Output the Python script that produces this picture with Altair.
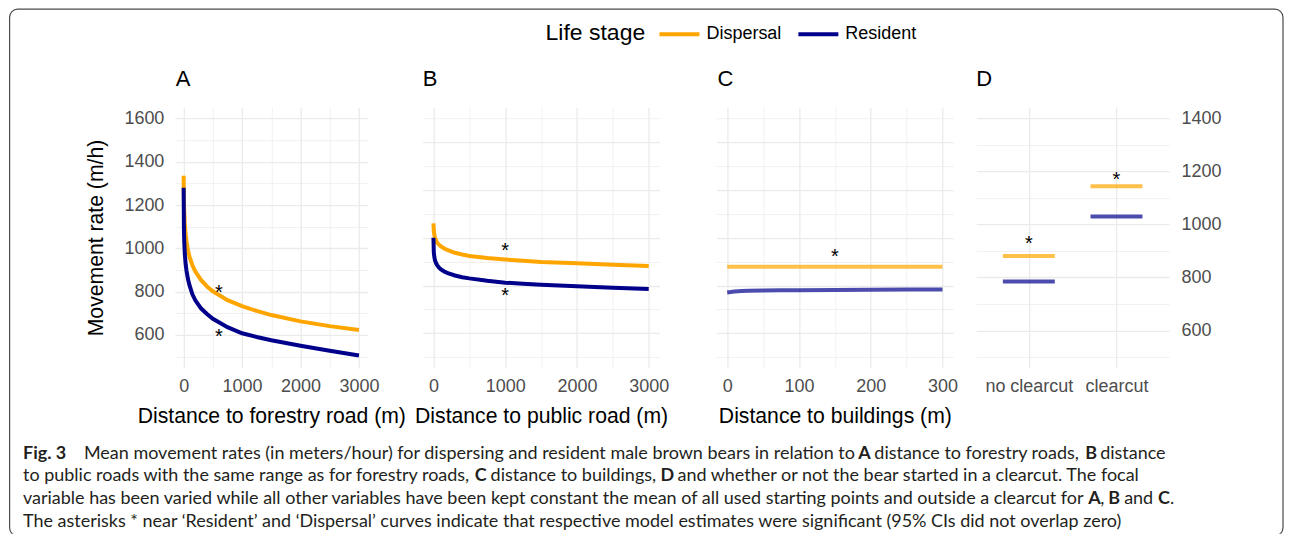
import altair as alt
import pandas as pd

FONT = "Liberation Sans"
CAP_FONT = "Lato"
ORANGE = "#FFA500"
NAVY = "#00008B"
GRID = "#EBEBEB"
TICK_TEXT = "#4D4D4D"

# ---------------- data ----------------
stages = ["Dispersal", "Resident"]

# A: distance to forestry road (m)
dist_forestry = [0, 5, 10, 20, 35, 50, 75, 100, 150, 200, 300, 400, 500, 750, 1000, 1250, 1500, 2000, 2500, 3000]
a_dispersal = [1335, 1220, 1172, 1113, 1064, 1030, 990, 962, 922, 893, 853, 824, 802, 761, 733, 711, 692, 663, 641, 623]
a_resident = [1280, 1095, 1035, 975, 925, 895, 857, 830, 788, 760, 722, 697, 675, 636, 608, 591, 576, 550, 527, 505]

# B: distance to public road (m)
dist_public = [0, 5, 10, 20, 35, 50, 75, 100, 150, 200, 300, 400, 500, 750, 1000, 1250, 1500, 2000, 2500, 3000]
b_dispersal = [1060, 1030, 1017, 1000, 990, 980, 972, 965, 955, 948, 937, 930, 924, 915, 909, 904, 899, 893, 887, 882]
b_resident = [1000, 940, 925, 907, 895, 886, 876, 869, 859, 852, 842, 835, 830, 820, 812, 807, 803, 797, 791, 785]

# C: distance to buildings (m)
dist_buildings = [0, 5, 10, 20, 30, 50, 75, 100, 150, 200, 250, 300]
c_dispersal = [879, 879, 879, 879, 879, 879, 879, 879, 879, 879, 879, 879]
c_resident = [771, 773, 775, 777, 778, 779, 780, 780, 781, 782, 783, 783]

# D: clearcut
clearcut = ["no clearcut", "clearcut"]
d_dispersal = [881, 1144]
d_resident = [785, 1030]

# significance asterisks (x, y in data units)
a_star_x = [603, 603]
a_star_y = [819, 616]
b_star_x = [1000, 1000]
b_star_y = [965, 778]
c_star_x = [150]
c_star_y = [942]
d_star_x = ["no clearcut", "clearcut"]
d_star_y = [944, 1187]

# free texts: panel letters and legend title (text, x, y) in page px
panel_letters = [("A", 175, 86), ("B", 422, 86), ("C", 717, 86), ("D", 976, 86)]
legend_title = ("Life stage", 545, 33)

# caption segments: (text, bold, x position in page px)
caption_lines = [
    [("Fig. 3", True, 22), ("Mean movement rates (in meters/hour) for dispersing and resident male brown bears in relation to", False, 83),
     ("A", True, 858), ("distance to forestry roads,", False, 874), ("B", True, 1085), ("distance", False, 1100)],
    [("to public roads with the same range as for forestry roads,", False, 22), ("C", True, 474),
     ("distance to buildings,", False, 490), ("D", True, 660), ("and whether or not the bear started in a clearcut. The focal", False, 677)],
    [("variable has been varied while all other variables have been kept constant the mean of all used starting points and outside a clearcut for", False, 22),
     ("A", True, 1088), (",", False, 1100), ("B", True, 1108), ("and", False, 1124), ("C", True, 1158), (".", False, 1170)],
    [("The asterisks * near \u2018Resident\u2019 and \u2018Dispersal\u2019 curves indicate that respective model estimates were significant (95% CIs did not overlap zero)", False, 22)],
]
caption_baselines = [459, 481, 504, 527]

# page-pixel geometry of panel A's plot area (used to place caption, letters and frame)
A_LEFT, A_TOP, A_W, H = 174, 107, 193, 261


def long_df(xs, disp, res):
    rows = []
    for s, vals in zip(stages, [disp, res]):
        for x, v in zip(xs, vals):
            rows.append({"x": x, "v": v, "stage": s})
    return pd.DataFrame(rows)


def grid_w(step):
    return {"condition": {"test": f"datum.value % {step} == 0", "value": 1.3}, "value": 0.7}


legend = alt.Legend(
    orient="none", legendX=483, legendY=-95, direction="horizontal", title=None,
    labelFontSize=18, labelFont=FONT, labelColor="black", symbolType="stroke", symbolSize=1600,
    symbolStrokeWidth=4, columnPadding=8, labelOffset=5, padding=0,
)
color = alt.Color("stage:N", scale=alt.Scale(domain=stages, range=[ORANGE, NAVY]), legend=legend)


def star_layer(df, x, y):
    return alt.Chart(df).mark_text(text="*", fontSize=20, font=FONT, baseline="middle", dy=5,
                                   color="black").encode(x=x, y=y)


def line_panel(xs, disp, res, sx, sy, xdom, xvals, xmajor, xtitle, ydom, yaxis, opacity=1.0):
    df = long_df(xs, disp, res)
    stars = pd.DataFrame({"x": sx, "v": sy})
    x = alt.X("x:Q", scale=alt.Scale(domain=xdom, nice=False, zero=False),
              axis=alt.Axis(values=xvals, format="d", title=xtitle,
                            labelExpr=f"datum.value % {xmajor} == 0 ? datum.label : ''",
                            gridWidth=grid_w(xmajor), labelPadding=10, titlePadding=10))
    y = alt.Y("v:Q", scale=alt.Scale(domain=ydom, nice=False, zero=False), axis=yaxis)
    lines = alt.Chart(df).mark_line(strokeWidth=4, opacity=opacity, strokeCap="butt").encode(
        x=x, y=y, color=color)
    return alt.layer(lines, star_layer(stars, x, y))


yvals = list(range(500, 1601, 100))
axis_a = alt.Axis(values=yvals, format="d", title="Movement rate (m/h)",
                  labelExpr="datum.value % 200 == 0 ? datum.label : ''",
                  gridWidth=grid_w(200), labelPadding=11, titlePadding=17)
axis_bc = alt.Axis(values=list(range(500, 1501, 100)), labels=False, title=None, gridWidth=grid_w(200))

inner_a = line_panel(dist_forestry, a_dispersal, a_resident, a_star_x, a_star_y, [-150, 3150],
                     list(range(0, 3001, 500)), 1000, "Distance to forestry road (m)",
                     [448, 1652], axis_a)
panel_b = line_panel(dist_public, b_dispersal, b_resident, b_star_x, b_star_y, [-150, 3150],
                     list(range(0, 3001, 500)), 1000, "Distance to public road (m)",
                     [455, 1547], axis_bc).properties(width=237, height=H)
panel_c = line_panel(dist_buildings, c_dispersal, c_resident, c_star_x, c_star_y, [-15, 315],
                     list(range(0, 301, 50)), 100, "Distance to buildings (m)",
                     [455, 1547], axis_bc, opacity=0.7).properties(width=237, height=H)

# caption, panel letters, legend title and figure frame, in page-pixel coordinates (independent scale of panel A)
cap_rows = []
for i, segs in enumerate(caption_lines):
    for text, bold, xp in segs:
        cap_rows.append({"x": xp, "y": caption_baselines[i], "text": text, "bold": bold})
cap_df = pd.DataFrame(cap_rows)
letters_df = pd.DataFrame({"text": [t for t, _, _ in panel_letters], "x": [x for _, x, _ in panel_letters],
                           "y": [y for _, _, y in panel_letters]})
ltitle_df = pd.DataFrame({"text": [legend_title[0]], "x": [legend_title[1]], "y": [legend_title[2]]})
cx = alt.X("x:Q", scale=alt.Scale(domain=[A_LEFT, A_LEFT + A_W], nice=False, zero=False), axis=None)
cy = alt.Y("y:Q", scale=alt.Scale(domain=[A_TOP, A_TOP + H], range=[0, H], nice=False, zero=False), axis=None)
cap_normal = alt.Chart(cap_df).transform_filter("!datum.bold").mark_text(
    align="left", baseline="alphabetic", font=CAP_FONT, fontSize=18, color="#231F20").encode(
    x=cx, y=cy, text="text:N")
cap_bold = alt.Chart(cap_df).transform_filter("datum.bold").mark_text(
    align="left", baseline="alphabetic", font=CAP_FONT, fontSize=18, fontWeight="bold",
    color="#231F20").encode(x=cx, y=cy, text="text:N")
letters = alt.Chart(letters_df).mark_text(align="left", baseline="alphabetic", font=FONT, fontSize=22,
                                          color="black").encode(x=cx, y=cy, text="text:N")
ltitle = alt.Chart(ltitle_df).mark_text(align="left", baseline="middle", font=FONT, fontSize=23,
                                        color="black").encode(x=cx, y=cy, text="text:N")
frame_df = pd.DataFrame({"x": [8.6], "x2": [1283], "y": [9], "y2": [536]})
frame = alt.Chart(frame_df).mark_rect(fillOpacity=0, stroke="#4A4A4A", strokeWidth=1.2,
                                      cornerRadius=8).encode(x=cx, x2="x2:Q", y=cy, y2="y2:Q")
mask_df = pd.DataFrame({"x": [9.6], "x2": [1282], "y": [536]})
mask = alt.Chart(mask_df).mark_rule(color="white", strokeWidth=4).encode(x=cx, x2="x2:Q", y=cy)
overlay = alt.layer(frame, mask, letters, ltitle, cap_normal, cap_bold)

panel_a = alt.layer(inner_a, overlay).resolve_scale(x="independent", y="independent").properties(
    width=A_W, height=H)

# D panel
d_rows = []
for s, vals in zip(stages, [d_dispersal, d_resident]):
    for c, v in zip(clearcut, vals):
        d_rows.append({"cat": c, "v": v, "stage": s})
d_df = pd.DataFrame(d_rows)
d_stars = pd.DataFrame({"cat": d_star_x, "v": d_star_y})
dx = alt.X("cat:N", sort=clearcut, scale=alt.Scale(type="point", domain=clearcut, padding=0.6),
           axis=alt.Axis(title=None, labelAngle=0, grid=True, gridWidth=1.3, labelPadding=10))
dy = alt.Y("v:Q", scale=alt.Scale(domain=[459, 1442], nice=False, zero=False),
           axis=alt.Axis(orient="right", values=list(range(500, 1401, 100)), format="d", title=None,
                         labelExpr="datum.value % 200 == 0 ? datum.label : ''",
                         gridWidth=grid_w(200), labelPadding=12))
d_ticks = alt.Chart(d_df).mark_tick(size=52, thickness=4).encode(x=dx, y=dy, color=color)
panel_d = alt.layer(d_ticks, star_layer(d_stars, dx, dy)).properties(width=193, height=H)


def spacer(w):
    return alt.Chart(pd.DataFrame({"s": [0]})).mark_point(opacity=0, size=0).encode(
        x=alt.value(0), y=alt.value(0)).properties(width=w, height=H)


chart = alt.hconcat(panel_a, spacer(54.7), panel_b, spacer(57), panel_c, spacer(23), panel_d,
                    spacing=0, bounds="flush").resolve_scale(color="shared").properties(
    padding=0
).configure_view(stroke=None).configure_axis(
    labelFont=FONT, titleFont=FONT, labelFontSize=18, titleFontSize=21.2, labelColor=TICK_TEXT,
    titleColor="black", titleFontWeight="normal", domain=False, ticks=False, gridColor=GRID,
    labelOverlap=False, labelFlush=False,
)

chart.save("out.html", embed_options={"renderer": "svg", "actions": False})
